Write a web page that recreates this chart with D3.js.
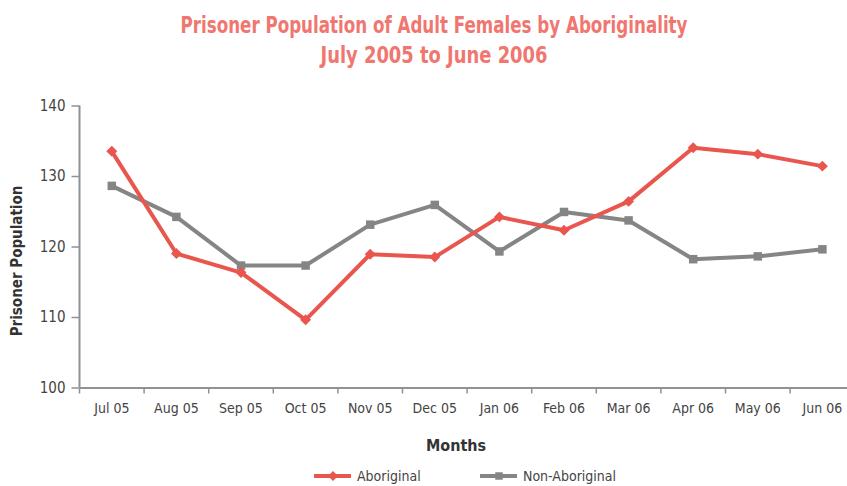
<!DOCTYPE html>
<html><head><meta charset="utf-8">
<script src="https://cdn.jsdelivr.net/npm/d3@7"></script>
<style>
body{margin:0;background:#fff;}
svg{display:block;}
text{font-family:"Liberation Sans Narrow","DejaVu Sans Condensed","Roboto",sans-serif;}
</style></head>
<body><svg id="chart" width="847" height="486"></svg>
<script>
const months = ["Jul 05","Aug 05","Sep 05","Oct 05","Nov 05","Dec 05","Jan 06","Feb 06","Mar 06","Apr 06","May 06","Jun 06"];
const aboriginal = [133.5,119,116.3,109.6,118.9,118.5,124.2,122.3,126.4,134,133.1,131.4];
const nonAboriginal = [128.6,124.2,117.3,117.3,123.1,125.9,119.3,124.9,123.7,118.2,118.6,119.6];
const yTicks = [100,110,120,130,140];
const titleLines = ["Prisoner Population of Adult Females by Aboriginality","July 2005 to June 2006"];

const svg = d3.select("#chart");
const red = "#e8564e", grey = "#858585", titleCol = "#f07670", axisCol = "#8c9295", textCol = "#444";
const x0 = 79.5, x1 = 79.5 + 12*64.6, yTop = 105.5, yBot = 387.5;

const x = d3.scaleBand().domain(months).range([x0, x1]);
const y = d3.scaleLinear().domain([100,140]).range([yBot, yTop]);

const titleW = [507, 227];
svg.selectAll("text.title").data(titleLines).join("text").attr("class","title")
  .attr("x",434).attr("y",(d,i)=>33+i*30).attr("text-anchor","middle")
  .attr("font-size",23).attr("font-weight","bold").attr("fill",titleCol)
  .attr("textLength",(d,i)=>titleW[i]).attr("lengthAdjust","spacingAndGlyphs").text(d=>d);

const xAxis = svg.append("g").attr("transform",`translate(0,${yBot})`)
  .call(d3.axisBottom(x).tickSize(0).tickPadding(16));
xAxis.select(".domain").attr("stroke",axisCol).attr("stroke-width",2);
xAxis.selectAll("text").attr("font-size",14).attr("fill",textCol).attr("font-family",null);
svg.append("g").selectAll("line").data(d3.range(13)).join("line")
  .attr("x1",i=>x0+i*x.bandwidth()).attr("x2",i=>x0+i*x.bandwidth())
  .attr("y1",yBot).attr("y2",yBot+6).attr("stroke",axisCol).attr("stroke-width",1.5);

const yAxis = svg.append("g").attr("transform",`translate(${x0},0)`)
  .call(d3.axisLeft(y).tickValues(yTicks).tickSize(8).tickPadding(6));
yAxis.select(".domain").attr("stroke",axisCol).attr("stroke-width",2).attr("d",`M0,${yTop}V${yBot}`);
yAxis.selectAll(".tick line").attr("stroke",axisCol).attr("stroke-width",1.5);
yAxis.selectAll("text").attr("font-size",15).attr("fill",textCol).attr("font-family",null);

svg.append("text").attr("transform",`translate(22,261) rotate(-90)`)
  .attr("text-anchor","middle").attr("font-size",15).attr("font-weight","bold").attr("fill","#333")
  .text("Prisoner Population");
svg.append("text").attr("x",456).attr("y",451).attr("text-anchor","middle")
  .attr("font-size",16).attr("font-weight","bold").attr("fill","#333").text("Months");

const cx = m => x(m) + x.bandwidth()/2;
const line = d3.line().x((d,i)=>cx(months[i])).y(d=>y(d));

function series(data, col, diamond){
  svg.append("path").datum(data).attr("d",line).attr("fill","none")
    .attr("stroke",col).attr("stroke-width",4).attr("stroke-linejoin","round");
  const sym = d3.symbol().type(d3.symbolSquare).size(diamond?60:72);
  svg.append("g").selectAll("path").data(data).join("path")
    .attr("transform",(d,i)=>`translate(${cx(months[i])},${y(d)})` + (diamond?" rotate(45)":""))
    .attr("d",sym).attr("fill",col);
}
series(nonAboriginal, grey, false);
series(aboriginal, red, true);

const legend = [{name:"Aboriginal",col:red,diamond:true,x:314},{name:"Non-Aboriginal",col:grey,diamond:false,x:480}];
const lg = svg.append("g").selectAll("g").data(legend).join("g").attr("transform",d=>`translate(${d.x},476)`);
lg.append("line").attr("x1",0).attr("x2",37).attr("stroke",d=>d.col).attr("stroke-width",4);
lg.append("path").attr("transform",d=>"translate(19,0)"+(d.diamond?" rotate(45)":""))
  .attr("d",d=>d3.symbol().type(d3.symbolSquare).size(d.diamond?50:56)()).attr("fill",d=>d.col);
lg.append("text").attr("x",43).attr("y",5).attr("font-size",14).attr("fill",textCol).text(d=>d.name);
</script></body></html>
